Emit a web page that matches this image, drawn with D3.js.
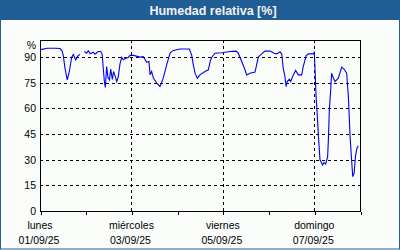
<!DOCTYPE html>
<html><head><meta charset="utf-8">
<script src="https://cdn.jsdelivr.net/npm/d3@7"></script>
<style>html,body{margin:0;padding:0;background:#fafdfa;}svg{display:block;}</style>
</head><body>
<svg id="c" width="400" height="250"></svg>
<script>
const title = "Humedad relativa [%]";
const startDate = "2025-09-01T00:00:00";
const endDate = "2025-09-08T00:00:00";
const dayNames = ["domingo","lunes","martes","miércoles","jueves","viernes","sábado"];
const yTicks = [0,15,30,45,60,75,90];
const yUnit = "%";
// hours since 01/09/25 00:00
const hours = [0,1.0,3.7,7.9,10.5,11.6,12.2,13.1,14.3,15.4,16.6,17.5,18.7,20.1,21.0,22.0,23.3,24.5,25.4,26.3,28.0,28.9,30.6,31.9,32.7,33.2,33.8,34.3,35.0,35.7,36.5,37.1,38.0,38.6,39.4,40.3,41.1,42.0,42.9,43.7,45.2,46.4,47.3,49.0,52.5,54.2,56.0,57.2,57.8,58.6,59.5,61.3,63.0,64.7,66.5,68.3,70.0,73.5,78.4,79.6,80.5,81.4,82.6,84.0,86.6,88.4,89.3,90.1,91.9,95.4,99.8,102.9,104.1,105.9,107.6,108.5,110.3,112.9,114.6,116.4,118.1,120.8,122.9,124.3,126.0,126.9,127.7,128.6,129.2,129.8,130.9,131.6,133.0,134.2,135.6,137.4,138.2,139.7,140.9,143.5,144.0,144.4,144.9,145.6,146.3,147.0,148.4,149.1,150.0,151.0,151.4,151.9,152.6,153.1,153.7,154.9,156.6,158.4,159.6,161.0,161.9,162.8,163.7,164.2,164.9,165.6,166.4,167.1];
const humidity = [94.3,94.5,95.2,95.2,95,93.7,91,83.7,76.7,81.6,89.8,91.5,88.4,91,91.5,null,93.3,92.3,93.7,91.9,92.9,91.7,93.3,93.3,91.3,83.5,75.7,72.2,84.5,78,76.7,83,77,81.6,79,75.7,78.6,86,89.8,88.4,89.4,89.8,91,91,90,90.3,87,87.4,79.6,81.6,77.7,74.8,72.8,77.7,85.5,92.3,93.9,94.7,94.7,91.3,85.5,80.6,77.7,79.6,81.6,82.6,87.4,89.8,92.3,92.5,93.3,93.5,92.3,87.4,82.6,79.6,80.6,81.2,90,91.9,93.5,93.5,92.3,91.9,93.1,91.9,83.5,78.6,72.8,75.7,77.1,75.7,79.6,82.2,79.6,79.6,84.5,90.7,91.9,91.9,92.7,82.6,67.9,55.2,41.6,29.9,26.9,28.3,27.5,31.8,41.6,59.1,70.8,80.6,78.6,75.7,77.7,84.1,83,80.6,66.9,43.5,27.9,20.1,22.1,31.8,36.7,38.1];

const svg = d3.select("#c");
const W = 400, H = 250;
const m = {l:40, r:360, t:40, b:211};
const FONT = "'Liberation Sans', Arial, sans-serif";

svg.append("rect").attr("x",0.5).attr("y",0.5).attr("width",W-1).attr("height",H-1.5)
  .attr("fill","#fafdfa").attr("stroke","#1f5d94").attr("stroke-width",1);
svg.append("rect").attr("x",0).attr("y",0).attr("width",W).attr("height",20).attr("fill","#1f5d94");
svg.append("text").attr("x",213).attr("y",15).attr("text-anchor","middle")
  .attr("font-family",FONT).attr("font-weight","bold").attr("font-size","12.5px")
  .attr("fill","#f2f2f2").text(title);

const t0 = new Date(startDate), t1 = new Date(endDate);
const x = d3.scaleTime().domain([t0,t1]).range([m.l,m.r]);
const y = d3.scaleLinear().domain([0,100]).range([m.b,m.t]);

const days = d3.timeDay.range(t0, d3.timeDay.offset(t1,1));
const major = days.filter((d,i)=> i%2===0);
const minor = days.filter((d,i)=> i%2===1);

// grid
const g = svg.append("g").attr("stroke","#000").attr("stroke-width",1).attr("stroke-dasharray","3,3").attr("shape-rendering","crispEdges");
yTicks.filter(v=>v>0).forEach(v=>{
  g.append("line").attr("x1",m.l).attr("x2",m.r).attr("y1",Math.round(y(v))+0.5).attr("y2",Math.round(y(v))+0.5);
});
major.filter(d=>d>t0 && d<t1).forEach(d=>{
  g.append("line").attr("x1",Math.round(x(d))+0.5).attr("x2",Math.round(x(d))+0.5).attr("y1",m.t).attr("y2",m.b+3);
});

// frame
svg.append("rect").attr("x",m.l+0.5).attr("y",m.t+0.5).attr("width",m.r-m.l).attr("height",m.b-m.t)
  .attr("fill","none").attr("stroke","#000").attr("shape-rendering","crispEdges");

// bottom axis ticks
const xAxis = d3.axisBottom(x).tickValues(days).tickSize(3).tickFormat("");
const ax = svg.append("g").attr("transform",`translate(0.5,${m.b+0.5})`).call(xAxis);
ax.select(".domain").remove();
ax.selectAll("line").attr("stroke","#000").attr("shape-rendering","crispEdges");

// x labels
const fmt = d3.timeFormat("%d/%m/%y");
const lab = svg.append("g").attr("font-family",FONT).attr("font-size","10.5px").attr("fill","#000").attr("text-anchor","middle");
major.filter(d=>d<t1).forEach(d=>{
  lab.append("text").attr("x",x(d)).attr("y",229).text(dayNames[d.getDay()]);
  lab.append("text").attr("x",x(d)-1).attr("y",244).text(fmt(d));
});

// y labels
const yl = svg.append("g").attr("font-family",FONT).attr("font-size","10.5px").attr("fill","#000").attr("text-anchor","end");
yTicks.forEach(v=>{
  yl.append("text").attr("x",36).attr("y",y(v)+4).text(v);
});
yl.append("text").attr("x",36).attr("y",y(90)-8).text(yUnit);

// line
const data = hours.map((h,i)=>({t:new Date(t0.getTime()+h*3600000), v:humidity[i]}));
const line = d3.line().defined(d=>d.v!==null).x(d=>x(d.t)).y(d=>y(d.v));
svg.append("path").datum(data).attr("d",line).attr("fill","none").attr("stroke","#0000ee").attr("stroke-width",1.1);
</script>
</body></html>
